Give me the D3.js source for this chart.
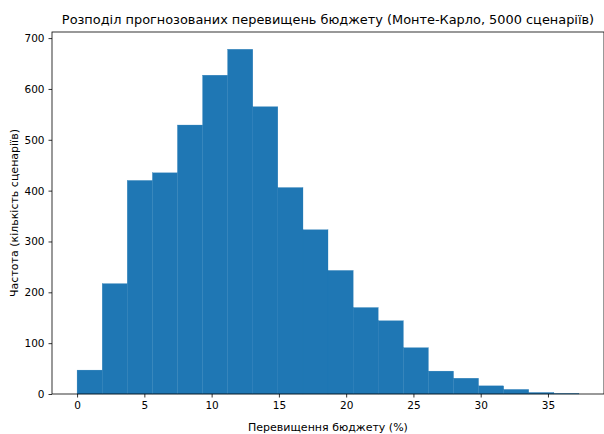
<!DOCTYPE html>
<html><head><meta charset="utf-8">
<script src="https://cdn.jsdelivr.net/npm/d3@7"></script>
<style>body{margin:0;background:#fff;} svg{display:block;font-family:"DejaVu Sans",sans-serif;}</style>
</head><body>
<svg id="c" width="604" height="434"></svg>
<script>
const title = "Розподіл прогнозованих перевищень бюджету (Монте-Карло, 5000 сценаріїв)";
const xLabel = "Перевищення бюджету (%)";
const yLabel = "Частота (кількість сценаріїв)";
const binEdges = [0, 1.87, 3.73, 5.60, 7.46, 9.33, 11.19, 13.06, 14.92, 16.79, 18.65, 20.52, 22.38, 24.25, 26.11, 27.98, 29.84, 31.71, 33.57, 35.44, 37.30];
const counts = [47, 217, 420, 435, 529, 627, 678, 565, 406, 323, 243, 170, 144, 91, 45, 31, 16, 9, 3, 1];
const xTicks = [0, 5, 10, 15, 20, 25, 30, 35];
const yTicks = [0, 100, 200, 300, 400, 500, 600, 700];

const svg = d3.select("#c");
const L = 52, R = 604, T = 32, B = 394;
const x = d3.scaleLinear().domain([-1.865, 39.165]).range([L, R]);
const y = d3.scaleLinear().domain([0, 712]).range([B, T]);

const bars = counts.map((c, i) => ({x0: binEdges[i], x1: binEdges[i+1], c}));
svg.append("g").selectAll("rect").data(bars).join("rect")
  .attr("x", d => x(d.x0)).attr("width", d => x(d.x1) - x(d.x0))
  .attr("y", d => y(d.c)).attr("height", d => y(0) - y(d.c))
  .attr("fill", "#1f77b4").attr("stroke", "#1f77b4").attr("stroke-width", 0.3);

const xa = svg.append("g").attr("transform", `translate(0,${B})`)
  .call(d3.axisBottom(x).tickValues(xTicks).tickSize(3.5).tickPadding(4).tickFormat(d3.format("d")));
const ya = svg.append("g").attr("transform", `translate(${L},0)`)
  .call(d3.axisLeft(y).tickValues(yTicks).tickSize(3.5).tickPadding(4).tickFormat(d3.format("d")));
[xa, ya].forEach(g => {
  g.select(".domain").remove();
  g.selectAll("text").attr("font-size", 10.5).attr("fill", "#000").attr("font-family", "DejaVu Sans");
  g.selectAll("line").attr("stroke", "#000").attr("stroke-width", 0.8);
});
svg.append("rect").attr("x", L).attr("y", T).attr("width", R - L).attr("height", B - T)
  .attr("fill", "none").attr("stroke", "#000").attr("stroke-width", 0.8);

svg.append("text").attr("x", (L + R) / 2).attr("y", 24).attr("text-anchor", "middle")
  .attr("font-size", 12.9).text(title);
svg.append("text").attr("x", (L + R) / 2).attr("y", 431).attr("text-anchor", "middle")
  .attr("font-size", 11).text(xLabel);
svg.append("text").attr("transform", `translate(18,${(T + B) / 2}) rotate(-90)`).attr("text-anchor", "middle")
  .attr("font-size", 11).text(yLabel);
</script>
</body></html>
